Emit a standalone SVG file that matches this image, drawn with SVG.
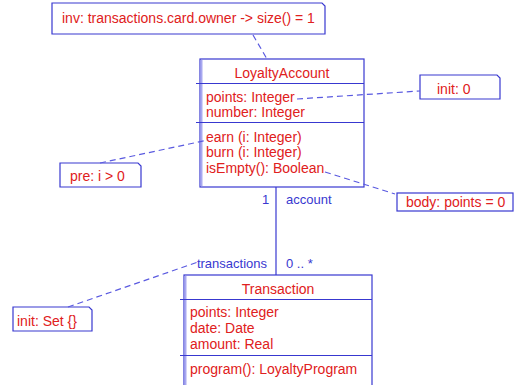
<svg xmlns="http://www.w3.org/2000/svg" width="517" height="385" viewBox="0 0 517 385">
  <style>
    .box { fill: #ffffff; stroke: #3838d0; stroke-width: 1.2; }
    .edge { stroke: #3838d0; stroke-width: 1.2; }
    .shade { stroke: #a8a8f0; stroke-width: 2; }
    .t { font-family: "Liberation Sans", Arial, sans-serif; font-size: 14px; fill: #e02020; }
    .lbl { font-family: "Liberation Sans", Arial, sans-serif; font-size: 13px; fill: #3838d0; }
    .dash { stroke: #5a5ae0; stroke-width: 1.2; stroke-dasharray: 6 4; fill: none; }
    .solid { stroke: #3838d0; stroke-width: 1.2; fill: none; }
  </style>

  <!-- invariant note -->
  <g id="note-inv">
    <path class="box" d="M52,3 H322 L325,6 V34 H52 Z"/>
    <text class="t" x="62" y="23">inv: transactions.card.owner -&gt; size() = 1</text>
  </g>

  <!-- LoyaltyAccount class -->
  <g id="LoyaltyAccount">
    <rect class="box" x="200" y="59" width="164" height="128"/>
    <line class="shade" x1="201.5" y1="60" x2="201.5" y2="186"/>
    <line class="edge" x1="196" y1="83.5" x2="364" y2="83.5"/>
    <line class="edge" x1="196" y1="122.5" x2="364" y2="122.5"/>
    <text class="t" x="282" y="78" text-anchor="middle">LoyaltyAccount</text>
    <text class="t" x="206" y="102">points: Integer</text>
    <text class="t" x="206" y="117">number: Integer</text>
    <text class="t" x="206" y="142">earn (i: Integer)</text>
    <text class="t" x="206" y="157">burn (i: Integer)</text>
    <text class="t" x="206" y="173">isEmpty(): Boolean</text>
  </g>

  <!-- init note for points -->
  <g id="note-init-points">
    <path class="box" d="M420,75 H497 L500,78 V99 H420 Z"/>
    <text class="t" x="437" y="94">init:  0</text>
  </g>

  <!-- precondition note -->
  <g id="note-pre">
    <path class="box" d="M60,163 H138 L141,166 V187 H60 Z"/>
    <text class="t" x="70" y="181">pre: i &gt; 0</text>
  </g>

  <!-- body note -->
  <g id="note-body">
    <rect class="box" x="397" y="193" width="116" height="18"/>
    <text class="t" x="406" y="207">body: points = 0</text>
  </g>

  <!-- Transaction class -->
  <g id="Transaction">
    <rect class="box" x="184" y="275" width="188" height="120"/>
    <line class="shade" x1="185.5" y1="276" x2="185.5" y2="385"/>
    <line class="edge" x1="180" y1="299.5" x2="372" y2="299.5"/>
    <line class="edge" x1="180" y1="355.5" x2="372" y2="355.5"/>
    <text class="t" x="278" y="294" text-anchor="middle">Transaction</text>
    <text class="t" x="190" y="317">points: Integer</text>
    <text class="t" x="190" y="333">date: Date</text>
    <text class="t" x="190" y="349">amount: Real</text>
    <text class="t" x="190" y="374">program(): LoyaltyProgram</text>
  </g>

  <!-- init note for transactions -->
  <g id="note-init-set">
    <path class="box" d="M13,307 H89 L92,310 V331 H13 Z"/>
    <text class="t" x="17" y="326">init: Set {}</text>
  </g>

  <!-- connectors, drawn last so the dashed note links run over the class boxes -->
  <g id="connectors">
    <line class="dash" x1="253" y1="35" x2="267" y2="59"/>
    <line class="dash" x1="297" y1="99" x2="420" y2="91"/>
    <line class="dash" x1="100" y1="163" x2="208" y2="140"/>
    <line class="dash" x1="325" y1="172" x2="395" y2="194"/>
    <line class="dash" x1="68" y1="307" x2="198" y2="262"/>
    <line class="solid" x1="276" y1="187" x2="276" y2="275"/>
    <text class="lbl" x="262" y="204">1</text>
    <text class="lbl" x="286" y="204">account</text>
    <text class="lbl" x="267" y="268" text-anchor="end">transactions</text>
    <text class="lbl" x="286" y="268">0 .. *</text>
  </g>
</svg>
